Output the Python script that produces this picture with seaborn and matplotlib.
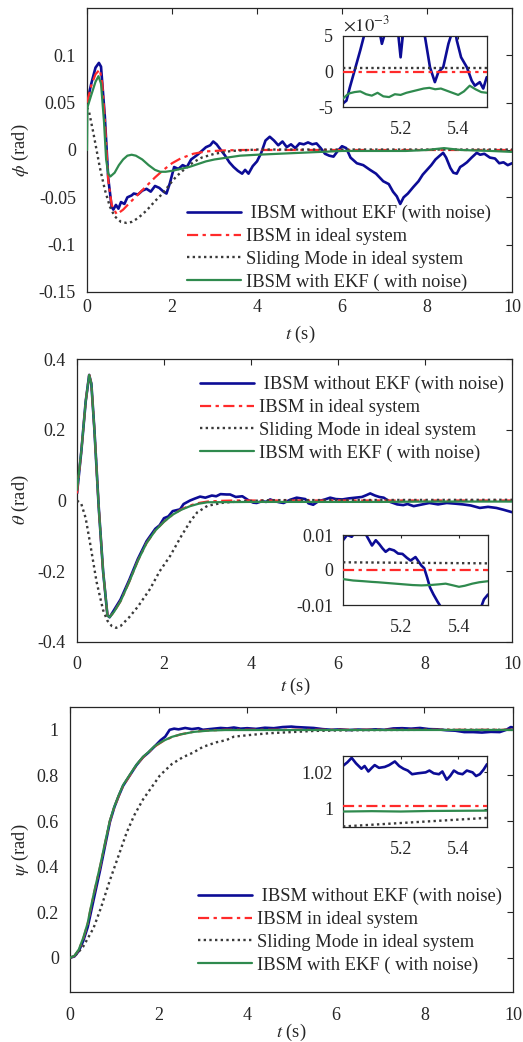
import matplotlib
matplotlib.use('Agg')
import matplotlib.pyplot as plt
import seaborn as sns
import numpy as np

# ---- phi (roll) -------------------------------------------------------
t_phi_blue = [0, 0.1, 0.2, 0.28, 0.33, 0.42, 0.5, 0.58, 0.62, 0.68, 0.74, 0.8, 0.88, 0.95, 1.05, 1.1,
              1.2, 1.3, 1.4, 1.5, 1.6, 1.7, 1.8, 1.87, 1.95, 2.05, 2.15, 2.25, 2.35, 2.45, 2.6, 2.7,
              2.8, 2.9, 2.97, 3.05, 3.15, 3.25, 3.35, 3.45, 3.55, 3.65, 3.72, 3.8, 3.9, 4.0, 4.1,
              4.2, 4.3, 4.4, 4.5, 4.6, 4.7, 4.8, 4.9, 5.0, 5.1, 5.2, 5.3, 5.4, 5.5, 5.6, 5.7, 5.8,
              5.9, 6.0, 6.1, 6.2, 6.35, 6.5, 6.66, 6.8, 6.97, 7.1, 7.2, 7.29, 7.37, 7.45, 7.55, 7.68,
              7.8, 7.9, 8.0, 8.1, 8.2, 8.3, 8.38, 8.45, 8.55, 8.62, 8.7, 8.78, 8.85, 8.94, 9.05,
              9.17, 9.25, 9.35, 9.48, 9.6, 9.7, 9.8, 9.9, 10.0]
phi_blue = [0.05, 0.07, 0.087, 0.092, 0.088, 0.035, -0.03, -0.06, -0.063, -0.058, -0.062, -0.055,
            -0.057, -0.05, -0.048, -0.046, -0.047, -0.043, -0.041, -0.044, -0.038, -0.04, -0.044,
            -0.046, -0.035, -0.018, -0.02, -0.016, -0.018, -0.01, -0.005, -0.001, 0.003, 0.005,
            0.009, 0.006, 0.0, -0.006, -0.013, -0.018, -0.022, -0.025, -0.021, -0.025, -0.017,
            -0.012, -0.003, 0.01, 0.014, 0.01, 0.005, 0.009, 0.003, 0.006, 0.002, 0.007, 0.006,
            0.008, 0.006, 0.007, 0.002, -0.004, -0.006, -0.007, -0.001, 0.004, 0.002, -0.008,
            -0.014, -0.016, -0.021, -0.025, -0.033, -0.036, -0.044, -0.049, -0.057, -0.05, -0.046,
            -0.039, -0.033, -0.026, -0.021, -0.016, -0.01, -0.006, -0.003, -0.008, -0.019, -0.024,
            -0.025, -0.018, -0.016, -0.013, -0.008, -0.003, -0.005, -0.004, -0.008, -0.009,
            -0.014, -0.013, -0.016, -0.014]
t_phi_red = [0, 0.1, 0.2, 0.3, 0.36, 0.42, 0.5, 0.58, 0.7, 0.85, 1.0, 1.2, 1.4, 1.6, 1.8, 2.0, 2.2,
             2.5, 2.8, 3.2, 3.6, 4.0, 5, 6, 7, 8, 9, 10]
phi_red = [0.05, 0.068, 0.08, 0.085, 0.07, 0.031, -0.032, -0.058, -0.068, -0.063, -0.056, -0.047,
           -0.038, -0.029, -0.021, -0.014, -0.009, -0.004, -0.0015, -0.0005, 0, 0, 0, 0, 0, 0, 0, 0]
t_phi_smc = [0, 0.05, 0.15, 0.3, 0.42, 0.54, 0.65, 0.8, 0.93, 1.05, 1.2, 1.4, 1.6, 1.8, 1.95, 2.1,
             2.3, 2.5, 2.7, 3.0, 3.4, 4.0, 5, 6, 7, 8, 9, 10]
phi_smc = [0.045, 0.04, 0.018, -0.018, -0.042, -0.06, -0.07, -0.076, -0.077, -0.076, -0.072, -0.064,
           -0.054, -0.045, -0.036, -0.028, -0.02, -0.013, -0.008, -0.004, -0.001, 0.0005, 0.0005,
           0.0005, 0.0005, 0.0005, 0.0005, 0.0005]
t_phi_ekf = [0, 0.01, 0.1, 0.2, 0.27, 0.33, 0.4, 0.45, 0.5, 0.55, 0.65, 0.75, 0.85, 0.95, 1.05, 1.15,
             1.3, 1.45, 1.6, 1.72, 1.85, 2.0, 2.2, 2.4, 2.6, 2.8, 3.0, 3.3, 3.6, 4.0, 4.5, 5.0, 5.5,
             6.0, 6.5, 7.0, 7.5, 8.0, 8.4, 8.8, 9.5, 10]
phi_ekf = [0.0, 0.045, 0.058, 0.072, 0.078, 0.07, 0.03, -0.01, -0.025, -0.028, -0.024, -0.016, -0.01,
           -0.006, -0.005, -0.006, -0.01, -0.016, -0.021, -0.023, -0.023, -0.022, -0.02, -0.018,
           -0.015, -0.012, -0.01, -0.008, -0.006, -0.005, -0.004, -0.003, -0.002, -0.001, -0.001,
           -0.001, -0.001, 0.0, 0.002, 0.0, -0.001, -0.002]

# phi zoom window (values in 1e-3 rad)
tz_phi_blue = [5.0, 5.012, 5.024, 5.04, 5.06, 5.076, 5.09, 5.11, 5.125, 5.135, 5.15, 5.17, 5.19, 5.2,
               5.21, 5.23, 5.26, 5.285, 5.302, 5.319, 5.331, 5.348, 5.366, 5.377, 5.385, 5.395,
               5.41, 5.43, 5.447, 5.458, 5.475, 5.487, 5.499]
z_phi_blue = [-4.5, -4.1, -2.2, 0.1, 3.0, 5.5, 8, 9, 6, 3.9, 6, 9, 6, 2.0, 6, 10, 9, 4.8, 0.6, -1.5,
              -0.1, 0.6, 3.9, 5.3, 7, 4.4, 2.0, 0.6, -1.3, -2.0, -1.5, -2.4, -0.8]
tz_phi_ekf = [5.0, 5.02, 5.04, 5.06, 5.08, 5.1, 5.12, 5.14, 5.16, 5.18, 5.2, 5.22, 5.25, 5.28, 5.3,
              5.32, 5.34, 5.36, 5.38, 5.4, 5.42, 5.44, 5.46, 5.48, 5.5]
z_phi_ekf = [-3.8, -3.1, -2.9, -2.8, -3.2, -3.4, -3.0, -3.5, -3.6, -3.2, -3.3, -3.0, -2.7, -2.4, -2.3,
             -2.5, -2.4, -2.7, -3.0, -3.3, -2.8, -2.0, -2.5, -2.9, -3.0]
tz_phi_flat = [5.0, 5.5]
z_phi_red = [0.0, 0.0]
z_phi_smc = [0.5, 0.5]

# ---- theta (pitch) ----------------------------------------------------
t_th_red = [0, 0.1, 0.2, 0.28, 0.33, 0.4, 0.5, 0.6, 0.7, 0.75, 0.85, 1.0, 1.2, 1.4, 1.6, 1.8, 2.0,
            2.2, 2.4, 2.6, 2.8, 3.0, 3.3, 3.6, 10]
th_red = [0.02, 0.14, 0.28, 0.355, 0.33, 0.2, -0.02, -0.2, -0.325, -0.33, -0.315, -0.285, -0.23,
          -0.17, -0.12, -0.085, -0.06, -0.04, -0.025, -0.014, -0.007, -0.003, -0.001, 0, 0]
t_th_blue = [0, 0.1, 0.2, 0.28, 0.33, 0.4, 0.5, 0.6, 0.7, 0.75, 0.85, 1.0, 1.2, 1.4, 1.6, 1.8, 1.9,
             2.0, 2.1, 2.2, 2.37, 2.45, 2.6, 2.7, 2.83, 2.95, 3.1, 3.2, 3.3, 3.44, 3.52, 3.65, 3.8,
             3.95, 4.05, 4.13, 4.25, 4.35, 4.44, 4.55, 4.65, 4.75, 4.9, 5.05, 5.15, 5.25, 5.32,
             5.43, 5.55, 5.7, 5.82, 5.95, 6.1, 6.25, 6.4, 6.55, 6.65, 6.74, 6.85, 6.95, 7.05, 7.2,
             7.36, 7.5, 7.6, 7.74, 7.9, 8.1, 8.3, 8.5, 8.7, 8.87, 9.05, 9.26, 9.45, 9.64, 9.8, 10]
th_blue = [0.02, 0.14, 0.28, 0.355, 0.33, 0.2, -0.02, -0.2, -0.325, -0.33, -0.31, -0.28, -0.225,
           -0.165, -0.115, -0.08, -0.07, -0.05, -0.045, -0.03, -0.025, -0.01, 0.0, 0.005, 0.011,
           0.008, 0.014, 0.012, 0.018, 0.017, 0.017, 0.01, 0.012, 0.0, -0.006, -0.007, -0.002,
           -0.004, 0.003, -0.002, -0.005, -0.007, 0.002, 0.008, 0.006, 0.004, -0.008, -0.012,
           -0.002, 0.003, 0.008, 0.004, 0.003, 0.006, 0.008, 0.01, 0.015, 0.02, 0.014, 0.01, 0.008,
           -0.004, -0.011, -0.013, -0.01, -0.016, -0.012, -0.007, -0.011, -0.007, -0.009, -0.011,
           -0.014, -0.021, -0.018, -0.021, -0.026, -0.033]
t_th_smc = [0, 0.1, 0.2, 0.3, 0.45, 0.6, 0.7, 0.8, 0.9, 1.0, 1.2, 1.4, 1.68, 1.9, 2.14, 2.4, 2.6,
            2.76, 3.0, 3.37, 3.8, 4.5, 10]
th_smc = [0.0, -0.01, -0.05, -0.12, -0.23, -0.31, -0.34, -0.355, -0.36, -0.355, -0.33, -0.3, -0.25,
          -0.2, -0.157, -0.1, -0.06, -0.034, -0.015, -0.006, -0.002, 0.001, 0.002]
t_th_ekf = [0, 0.1, 0.2, 0.28, 0.33, 0.4, 0.5, 0.6, 0.7, 0.75, 0.85, 1.0, 1.2, 1.4, 1.6, 1.8, 2.0,
            2.2, 2.4, 2.6, 2.8, 3.0, 4.0, 5.0, 6.0, 7.0, 8.0, 9.0, 10]
th_ekf = [0.03, 0.14, 0.28, 0.355, 0.33, 0.2, -0.02, -0.2, -0.325, -0.33, -0.315, -0.285, -0.23,
          -0.17, -0.12, -0.085, -0.06, -0.04, -0.026, -0.016, -0.009, -0.005, -0.004, -0.004,
          -0.004, -0.004, -0.003, -0.003, -0.003]

tz_th_blue = [5.0, 5.014, 5.03, 5.044, 5.06, 5.08, 5.09, 5.1, 5.113, 5.125, 5.136, 5.147, 5.16,
              5.176, 5.19, 5.205, 5.22, 5.233, 5.25, 5.26, 5.27, 5.28, 5.29, 5.3, 5.312, 5.325,
              5.337, 5.36, 5.42, 5.47, 5.486, 5.5]
z_th_blue = [0.0085, 0.010, 0.0095, 0.011, 0.0105, 0.010, 0.0085, 0.007, 0.0085, 0.0074, 0.0062,
             0.0052, 0.006, 0.0056, 0.0047, 0.0046, 0.0035, 0.0027, 0.0037, 0.0025, 0.0013, 0.0005,
             -0.0021, -0.005, -0.007, -0.0089, -0.0105, -0.015, -0.02, -0.012, -0.0084, -0.007]
tz_th_ekf = [5.0, 5.035, 5.07, 5.1, 5.12, 5.15, 5.18, 5.21, 5.24, 5.27, 5.3, 5.33, 5.354, 5.38,
             5.4, 5.42, 5.446, 5.47, 5.5]
z_th_ekf = [-0.0026, -0.003, -0.0032, -0.0034, -0.0035, -0.0037, -0.0039, -0.0041, -0.0043,
            -0.0044, -0.0043, -0.0041, -0.0039, -0.0044, -0.0048, -0.0045, -0.0039, -0.0035,
            -0.0032]
tz_th_flat = [5.0, 5.5]
z_th_red = [0.0, 0.0]
z_th_smc = [0.0022, 0.0019]

# ---- psi (yaw) --------------------------------------------------------
t_psi_red = [0, 0.1, 0.2, 0.3, 0.4, 0.45, 0.55, 0.68, 0.8, 0.9, 1.0, 1.1, 1.2, 1.35, 1.5, 1.65,
             1.77, 1.9, 2.1, 2.3, 2.5, 2.8, 3.1, 3.5, 10]
psi_red = [0, 0.008, 0.035, 0.085, 0.15, 0.2, 0.29, 0.4, 0.51, 0.6, 0.66, 0.71, 0.755, 0.8, 0.845,
           0.88, 0.9, 0.925, 0.95, 0.968, 0.98, 0.992, 0.997, 1.0, 1.0]
t_psi_blue = [0, 0.1, 0.2, 0.3, 0.4, 0.45, 0.55, 0.68, 0.8, 0.9, 1.0, 1.1, 1.2, 1.35, 1.5, 1.65,
              1.77, 1.9, 2.05, 2.15, 2.25, 2.35, 2.45, 2.6, 2.75, 2.9, 3.0, 3.2, 3.4, 3.55, 3.7,
              3.85, 4.0, 4.2, 4.4, 4.6, 4.8, 5.0, 5.1, 5.3, 5.5, 5.7, 5.9, 6.1, 6.3, 6.5, 6.7, 6.9,
              7.1, 7.3, 7.5, 7.7, 7.9, 8.1, 8.3, 8.5, 8.7, 8.9, 9.1, 9.3, 9.5, 9.7, 9.85, 9.95, 10]
psi_blue = [0, 0.006, 0.03, 0.075, 0.135, 0.18, 0.27, 0.385, 0.5, 0.595, 0.66, 0.71, 0.755, 0.8,
            0.845, 0.88, 0.9, 0.925, 0.955, 0.97, 1.0, 1.005, 1.002, 1.008, 1.003, 1.007, 1.0,
            1.004, 1.008, 1.006, 1.01, 1.005, 1.007, 1.004, 1.009, 1.007, 1.012, 1.014, 1.012,
            1.01, 1.008, 1.003, 1.0, 1.002, 0.999, 1.001, 1.0, 1.002, 1.0, 1.006, 1.007, 1.005,
            1.008, 1.003, 1.002, 0.998, 0.996, 0.99, 0.99, 0.988, 0.991, 0.99, 1.0, 1.012, 1.01]
t_psi_smc = [0, 0.15, 0.3, 0.53, 0.7, 0.9, 1.1, 1.28, 1.45, 1.65, 1.85, 2.03, 2.3, 2.55, 2.78, 3.0,
             3.3, 3.53, 3.7, 4.1, 4.5, 5.0, 5.5, 6.0, 7, 8, 10]
psi_smc = [0, 0.016, 0.05, 0.13, 0.22, 0.34, 0.45, 0.55, 0.625, 0.695, 0.75, 0.8, 0.85, 0.88, 0.9,
           0.925, 0.945, 0.955, 0.97, 0.978, 0.985, 0.99, 0.995, 0.997, 0.999, 1.0, 1.0]
t_psi_ekf = t_psi_red
psi_ekf = [0, 0.009, 0.037, 0.088, 0.153, 0.203, 0.293, 0.403, 0.513, 0.602, 0.663, 0.713, 0.758,
           0.803, 0.847, 0.882, 0.902, 0.927, 0.951, 0.969, 0.98, 0.991, 0.996, 0.999, 0.9993]

tz_psi_blue = [5.0, 5.015, 5.03, 5.045, 5.064, 5.075, 5.088, 5.1, 5.11, 5.125, 5.145, 5.16, 5.18,
               5.195, 5.21, 5.225, 5.24, 5.26, 5.287, 5.3, 5.315, 5.333, 5.345, 5.36, 5.372, 5.385,
               5.4, 5.415, 5.43, 5.45, 5.462, 5.475, 5.488, 5.5]
z_psi_blue = [1.0236, 1.0255, 1.028, 1.025, 1.022, 1.0235, 1.0205, 1.0225, 1.024, 1.0225, 1.023,
              1.024, 1.026, 1.0235, 1.022, 1.021, 1.019, 1.0195, 1.020, 1.021, 1.0195, 1.019,
              1.0205, 1.016, 1.018, 1.021, 1.0195, 1.019, 1.021, 1.020, 1.018, 1.019, 1.0215,
              1.0245]
tz_psi_ekf = [5.0, 5.1, 5.2, 5.3, 5.4, 5.5]
z_psi_ekf = [0.9985, 0.9987, 0.9985, 0.9988, 0.9989, 0.999]
tz_psi_flat = [5.0, 5.5]
z_psi_red = [1.0013, 1.0013]
z_psi_smc = [0.9903, 0.995]

labels = [' IBSM without EKF (with noise)', 'IBSM in ideal system',
          'Sliding Mode in ideal system', 'IBSM with EKF ( with noise)']

W, H = 523, 1042
C_BLUE, C_RED, C_SMC, C_EKF = '#0c0c96', '#ff2a2a', '#3a3a3a', '#2f8a4e'

sns.set_theme(style='white')
plt.rcParams['font.family'] = ['Liberation Serif', 'DejaVu Serif']
plt.rcParams['mathtext.fontset'] = 'stix'
plt.rcParams['axes.unicode_minus'] = False

fig = plt.figure(figsize=(W / 100, H / 100), dpi=100)


def px_axes(l, t, r, b):
    return fig.add_axes([l / W, 1 - b / H, (r - l) / W, (b - t) / H])


def draw(ax, series, with_label=True):
    styles = [
        dict(color=C_BLUE, linewidth=1.9, linestyle='-', zorder=2),
        dict(color=C_RED, linewidth=1.6, linestyle=(0, (5, 2, 1.5, 2)), zorder=3),
        dict(color=C_SMC, linewidth=1.7, linestyle=(0, (1, 1.4)), zorder=3),
        dict(color=C_EKF, linewidth=1.6, linestyle='-', zorder=4),
    ]
    for (x, y), st, lab in zip(series, styles, labels):
        sns.lineplot(x=x, y=y, ax=ax, sort=False, estimator=None,
                     label=lab if with_label else None, legend=False, **st)


def style_axes(ax, fs=13, xpad=3, ypad=8):
    for sp in ax.spines.values():
        sp.set_color('#262626')
        sp.set_linewidth(0.9)
    ax.tick_params(direction='in', top=True, right=True, length=4, width=0.8,
                   labelsize=fs, colors='#262626')
    ax.tick_params(axis='x', pad=xpad)
    ax.tick_params(axis='y', pad=ypad)
    ax.set_xlabel('')
    ax.set_ylabel('')


def add_legend(ax, x_px, y_px):
    ax.legend(loc='upper left', bbox_to_anchor=(x_px / W, 1 - y_px / H),
              bbox_transform=fig.transFigure, frameon=False, fontsize=13.3,
              handlelength=2.9, handletextpad=0.3, labelspacing=0.31, borderpad=0,
              borderaxespad=0)


xt = [0, 2, 4, 6, 8, 10]
xt_lab = ['0', '2', '4', '6', '8', '10']
zt = [5.2, 5.4]
zt_lab = ['5.2', '5.4']

# ---------------- panel 1: phi ----------------
ax1 = px_axes(87, 8, 512, 292)
draw(ax1, [(t_phi_blue, phi_blue), (t_phi_red, phi_red), (t_phi_smc, phi_smc), (t_phi_ekf, phi_ekf)])
ax1.set_xlim(0, 10)
ax1.set_ylim(-0.15, 0.15)
ax1.set_xticks(xt, xt_lab)
ax1.set_yticks([-0.15, -0.1, -0.05, 0, 0.05, 0.1], ['-0.15', '-0.1', '-0.05', '0', '0.05', '0.1'])
style_axes(ax1, xpad=5)
add_legend(ax1, 187, 205)
fig.text(20 / W, 1 - 150 / H, r'$\phi$ (rad)', rotation=90, ha='center', va='center', fontsize=13.3)
fig.text(300 / W, 1 - 334 / H, r'$t$ (s)', ha='center', va='center', fontsize=13.3)

in1 = px_axes(343, 36, 487, 107)
draw(in1, [(tz_phi_blue, z_phi_blue), (tz_phi_flat, z_phi_red), (tz_phi_flat, z_phi_smc),
           (tz_phi_ekf, z_phi_ekf)], with_label=False)
in1.set_xlim(5.0, 5.5)
in1.set_ylim(-5, 5)
in1.set_xticks(zt, zt_lab)
in1.set_yticks([-5, 0, 5], ['-5', '0', '5'])
style_axes(in1, xpad=10, ypad=7)
in1.tick_params(length=2)
in1.text(0.0, 1.01, r'$\times10^{-3}$', transform=in1.transAxes, ha='left', va='bottom',
         fontsize=13.3, color='#262626')

# ---------------- panel 2: theta ----------------
ax2 = px_axes(77, 359, 512, 642)
draw(ax2, [(t_th_blue, th_blue), (t_th_red, th_red), (t_th_smc, th_smc), (t_th_ekf, th_ekf)])
ax2.set_xlim(0, 10)
ax2.set_ylim(-0.4, 0.4)
ax2.set_xticks(xt, xt_lab)
ax2.set_yticks([-0.4, -0.2, 0, 0.2, 0.4], ['-0.4', '-0.2', '0', '0.2', '0.4'])
style_axes(ax2, xpad=10)
add_legend(ax2, 200, 376)
fig.text(20 / W, 1 - 500 / H, r'$\theta$ (rad)', rotation=90, ha='center', va='center', fontsize=13.3)
fig.text(295 / W, 1 - 686 / H, r'$t$ (s)', ha='center', va='center', fontsize=13.3)

in2 = px_axes(343, 535, 488, 605)
draw(in2, [(tz_th_blue, z_th_blue), (tz_th_flat, z_th_red), (tz_th_flat, z_th_smc),
           (tz_th_ekf, z_th_ekf)], with_label=False)
in2.set_xlim(5.0, 5.5)
in2.set_ylim(-0.01, 0.01)
in2.set_xticks(zt, zt_lab)
in2.set_yticks([-0.01, 0, 0.01], ['-0.01', '0', '0.01'])
style_axes(in2, xpad=10, ypad=7)
in2.tick_params(length=2)

# ---------------- panel 3: psi ----------------
ax3 = px_axes(70, 707, 513, 992)
draw(ax3, [(t_psi_blue, psi_blue), (t_psi_red, psi_red), (t_psi_smc, psi_smc), (t_psi_ekf, psi_ekf)])
ax3.set_xlim(0, 10)
ax3.set_ylim(-0.15, 1.1)
ax3.set_xticks(xt, xt_lab)
ax3.set_yticks([0, 0.2, 0.4, 0.6, 0.8, 1.0], ['0', '0.2', '0.4', '0.6', '0.8', '1'])
style_axes(ax3, xpad=11)
add_legend(ax3, 198, 888)
fig.text(20 / W, 1 - 850 / H, r'$\psi$ (rad)', rotation=90, ha='center', va='center', fontsize=13.3)
fig.text(291 / W, 1 - 1032 / H, r'$t$ (s)', ha='center', va='center', fontsize=13.3)

in3 = px_axes(343, 756, 487, 827)
draw(in3, [(tz_psi_blue, z_psi_blue), (tz_psi_flat, z_psi_red), (tz_psi_flat, z_psi_smc),
           (tz_psi_ekf, z_psi_ekf)], with_label=False)
in3.set_xlim(5.0, 5.5)
in3.set_ylim(0.99, 1.029)
in3.set_xticks(zt, zt_lab)
in3.set_yticks([1.0, 1.02], ['1', '1.02'])
style_axes(in3, xpad=10, ypad=7)
in3.tick_params(length=2)

fig.savefig('out.png', dpi=100)
plt.close(fig)
